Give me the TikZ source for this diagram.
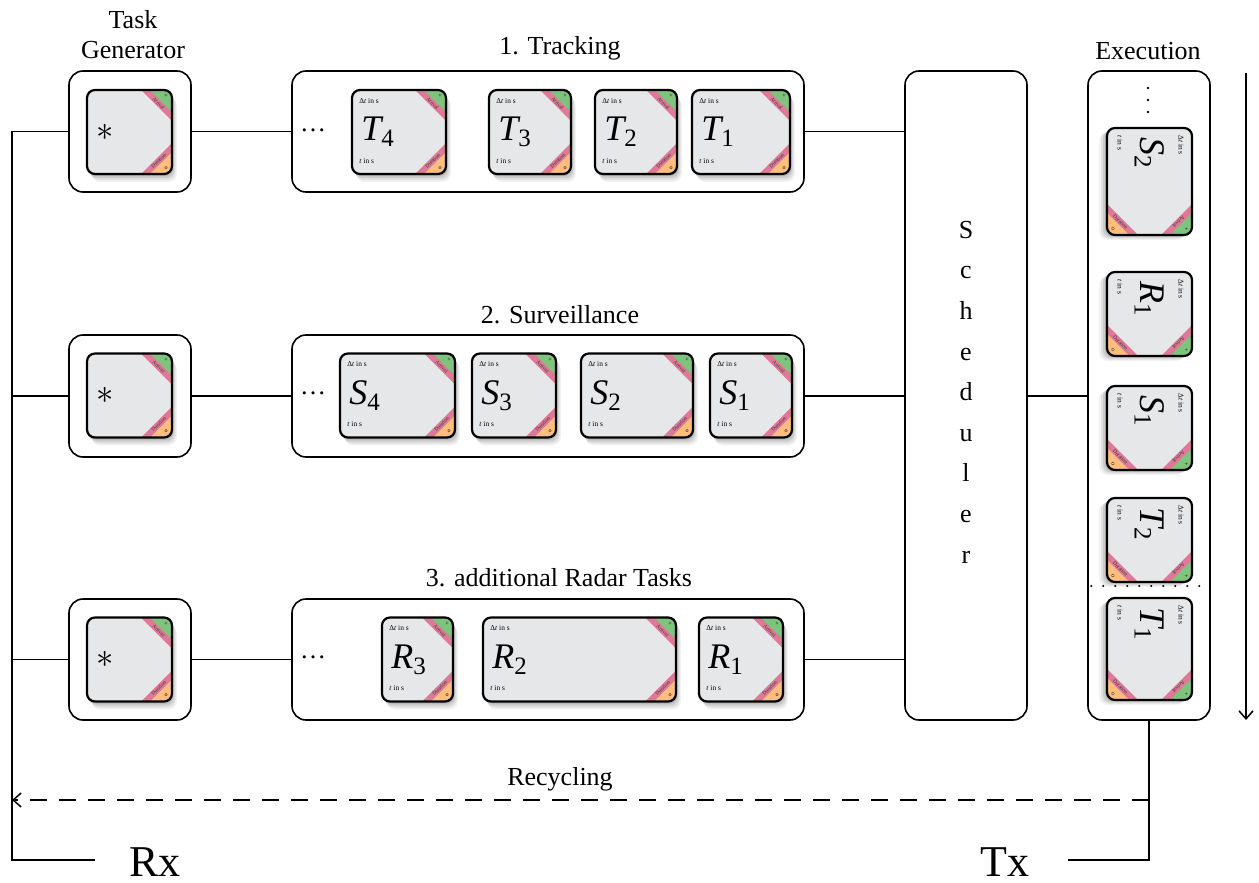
\documentclass[tikz,border=0pt]{standalone}
\usepackage{fontspec}
\setmainfont{Liberation Serif}
\usetikzlibrary{fit,arrows.meta}
\definecolor{cardgray}{RGB}{230,231,232}
\definecolor{cgreen}{RGB}{125,196,125}
\definecolor{cpink}{RGB}{222,122,152}
\definecolor{corange}{RGB}{253,190,125}
\tikzset{
  box/.style={draw, line width=0.8pt, rounded corners=7pt, inner sep=0pt, fill=white},
  conn/.style={line width=0.75pt},
  bandtext/.style={font=\fontsize{2.6}{3}\selectfont, inner sep=0pt, text=black!80},
  dottext/.style={font=\fontsize{3}{3}\selectfont, inner sep=0pt},
  smalltext/.style={font=\fontsize{3.7}{4}\selectfont, inner sep=0pt},
  biglabel/.style={font=\fontsize{18}{20}\selectfont, inner sep=0pt},
  title/.style={font=\fontsize{13}{15}\selectfont, inner sep=0pt},
}
\newcommand\lab[2]{{\itshape #1}\raisebox{-3pt}{\fontsize{12.5}{13}\selectfont #2}}
\newcommand\tcard[9]{%
\begin{scope}[shift={(#2,#3)}, rotate=#6, every node/.append style={transform shape}]
 \foreach \d/\o in {8/0.05,6/0.07,4/0.09,2/0.12}{\fill[black,opacity=\o,rounded corners=4pt] ({-#4/2+\d*0.6},{-#5/2+\d}) rectangle ({#4/2+\d*0.6},{#5/2+\d});}
 \node[inner sep=0pt, minimum width=#4*0.5pt, minimum height=#5*0.5pt, fill=cardgray, rounded corners=4pt] (#1) at (0,0) {};
 \begin{scope}
  \clip[rounded corners=4pt] ({-#4/2},{-#5/2}) rectangle ({#4/2},{#5/2});
  \fill[cpink] ({#4/2-31},{-#5/2}) -- ({#4/2},{-#5/2}) -- ({#4/2},{-#5/2+31}) -- cycle;
  \fill[cgreen] ({#4/2-22},{-#5/2}) -- ({#4/2},{-#5/2}) -- ({#4/2},{-#5/2+22}) -- cycle;
  \fill[cpink] ({#4/2-31},{#5/2}) -- ({#4/2},{#5/2}) -- ({#4/2},{#5/2-31}) -- cycle;
  \fill[corange] ({#4/2-22},{#5/2}) -- ({#4/2},{#5/2}) -- ({#4/2},{#5/2-22}) -- cycle;
 \end{scope}
 \draw[line width=1.1pt, rounded corners=4pt] ({-#4/2},{-#5/2}) rectangle ({#4/2},{#5/2});
 \node[bandtext, rotate=-45] at ({#4/2-13.3},{-#5/2+13.3}) {Arrival};
 \node[bandtext, rotate=45] at ({#4/2-13.3},{#5/2-13.3}) {Duration};
 \node[dottext] at ({#4/2-6},{-#5/2+6}) {+};
 \node[dottext] at ({#4/2-6},{#5/2-6}) {o};
 \node[biglabel, anchor=west] at ({-#4/2+9},0) {#7};
 \node[smalltext, anchor=west] at ({-#4/2+7},{-#5/2+11}) {#8};
 \node[smalltext, anchor=west] at ({-#4/2+7},{#5/2-13}) {#9};
\end{scope}}
\newcommand\dts{Δ\textit{t} in s}
\newcommand\ts{\textit{t} in s}
\begin{document}
\begin{tikzpicture}[x=0.5pt, y=-0.5pt]
\useasboundingbox (0,0) rectangle (1259,883);

% titles
\node[title] (tg1) at (133,20) {Task};
\node[title] (tg2) at (133,50) {Generator};
\node[title] (ttrk) at (560,48) {1. Tracking};
\node[title] (tsur) at (560,315) {2. Surveillance};
\node[title] (trad) at (559,578) {3. additional Radar Tasks};
\node[title] (texe) at (1148,51) {Execution};

% boxes
\node[box, fit={(69,71) (191,192)}] (g1) {};
\node[box, fit={(69,335) (191,457)}] (g2) {};
\node[box, fit={(69,599) (191,720)}] (g3) {};
\node[box, fit={(292,71) (804,192)}] (trk) {};
\node[box, fit={(292,335) (804,457)}] (sur) {};
\node[box, fit={(292,599) (804,720)}] (rad) {};
\node[box, fit={(905,71) (1027,720)}] (sched) {};
\node[box, fit={(1088,71) (1210,720)}] (exe) {};

% generator cards
\tcard{gc1}{129.5}{132}{85}{84}{0}{$\ast$}{}{}
\tcard{gc2}{129.5}{395.5}{85}{84}{0}{$\ast$}{}{}
\tcard{gc3}{129.5}{659.5}{85}{84}{0}{$\ast$}{}{}

% tracking
\node[title] (dt) at (313,130) {\dots};
\tcard{t4}{399}{132}{94}{84}{0}{\lab{T}{4}}{\dts}{\ts}
\tcard{t3}{530}{132}{82}{84}{0}{\lab{T}{3}}{\dts}{\ts}
\tcard{t2}{636}{132}{82}{84}{0}{\lab{T}{2}}{\dts}{\ts}
\tcard{t1}{741}{132}{98}{84}{0}{\lab{T}{1}}{\dts}{\ts}

% surveillance
\node[title] (ds) at (313,393) {\dots};
\tcard{s4}{397.5}{395.5}{115}{84}{0}{\lab{S}{4}}{\dts}{\ts}
\tcard{s3}{514}{395.5}{84}{84}{0}{\lab{S}{3}}{\dts}{\ts}
\tcard{s2}{637}{395.5}{112}{84}{0}{\lab{S}{2}}{\dts}{\ts}
\tcard{s1}{751}{395.5}{82}{84}{0}{\lab{S}{1}}{\dts}{\ts}

% radar
\node[title] (dr) at (313,657) {\dots};
\tcard{r3}{417.5}{659.5}{71}{84}{0}{\lab{R}{3}}{\dts}{\ts}
\tcard{r2}{579.5}{659.5}{193}{84}{0}{\lab{R}{2}}{\dts}{\ts}
\tcard{r1}{741}{659.5}{84}{84}{0}{\lab{R}{1}}{\dts}{\ts}

% scheduler text
\node[font=\fontsize{13}{20.3}\selectfont, align=center, inner sep=0pt] (schedtxt) at (966,392) {S\\c\\h\\e\\d\\u\\l\\e\\r};

% execution column
\foreach \yy in {88,100,112}{\fill (1148,\yy) circle (1.4);}
\tcard{e1}{1149.5}{181.5}{107}{85}{-90}{\lab{S}{2}}{\dts}{\ts}
\tcard{e2}{1149.5}{314}{84}{85}{-90}{\lab{R}{1}}{\dts}{\ts}
\tcard{e3}{1149.5}{428}{84}{85}{-90}{\lab{S}{1}}{\dts}{\ts}
\tcard{e4}{1149.5}{540}{84}{85}{-90}{\lab{T}{2}}{\dts}{\ts}
\tcard{e5}{1149.5}{649}{102}{85}{-90}{\lab{T}{1}}{\dts}{\ts}
\draw[line width=1.2pt, dash pattern=on 0pt off 6pt, line cap=round] ([xshift=2pt]exe.west |- 0,586) -- (exe.east |- 0,586);

% connectors
\coordinate (lt) at (12,131);
\coordinate (lb) at (12,860);
\coordinate (rxe) at (95,860);
\coordinate (txs) at (1068,860);
\coordinate (ta) at (1246,73);
\coordinate (tb) at (1246,720);
\draw[conn] (g1.west) -- (g1.west -| lt);
\draw[conn] (g2.west) -- (g2.west -| lt);
\draw[conn] (g3.west) -- (g3.west -| lt);
\draw[conn] (lt) -- (lb) -- (rxe);
\draw[conn] (g1.east) -- (trk.west);
\draw[conn] (g2.east) -- (sur.west);
\draw[conn] (g3.east) -- (rad.west);
\draw[conn] (trk.east) -- (trk.east -| sched.west);
\draw[conn] (sur.east) -- (sur.east -| sched.west);
\draw[conn] (rad.east) -- (rad.east -| sched.west);
\draw[conn] (sched.east |- sur.east) -- (exe.west |- sur.east);
\draw[conn] (exe.south) -- (exe.south |- txs) -- (txs);
\draw[conn, dash pattern=on 8.5pt off 6pt, -{Straight Barb[length=4pt,width=7pt]}] (exe.south |- 0,800) -- (lt |- 0,800);
\draw[conn, -{Straight Barb[length=4pt,width=7pt]}] (ta) -- (tb);

\node[title] (recy) at (560,779) {Recycling};
\node[font=\fontsize{22}{24}\selectfont, inner sep=0pt] (rx) at (155,862) {Rx};
\node[font=\fontsize{22}{24}\selectfont, inner sep=0pt] (tx) at (1005,862) {Tx};
\end{tikzpicture}
\end{document}
